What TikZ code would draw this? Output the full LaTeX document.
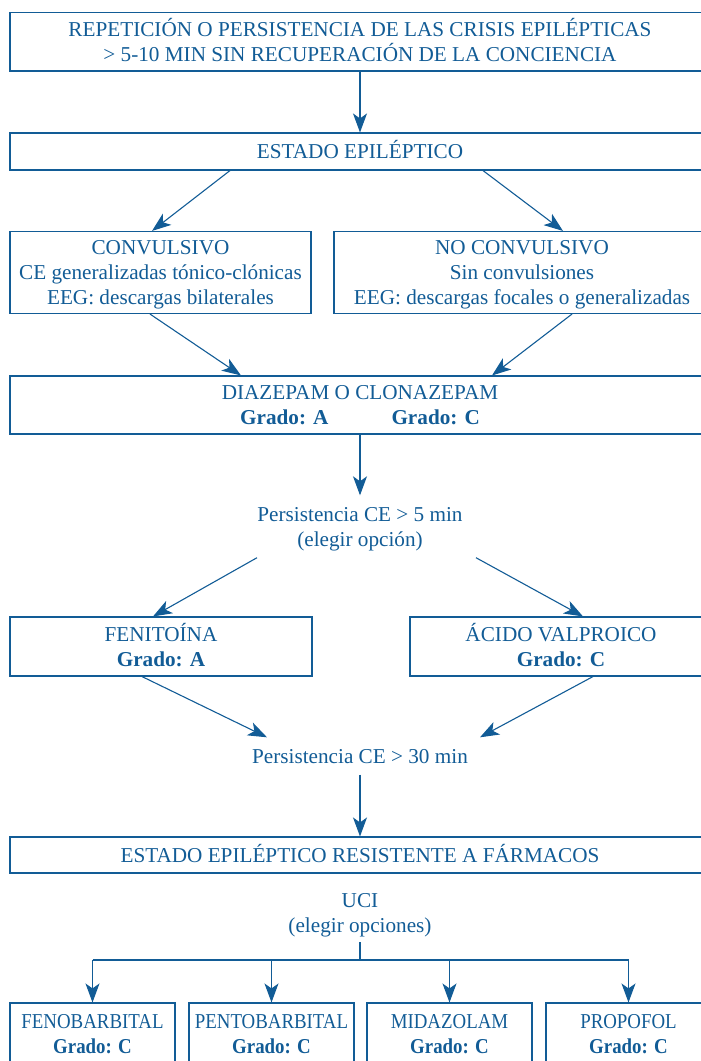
\documentclass[tikz,border=0pt]{standalone}
\usepackage{fontspec}
\setmainfont{Liberation Serif}
\newfontfamily\estrecha[FakeStretch=0.89]{Liberation Serif}
\usetikzlibrary{positioning,arrows.meta}
\definecolor{azul}{RGB}{18,92,150}

\tikzset{
  caja/.style={draw=azul, line width=1.1pt, text=azul, align=center, inner sep=0pt, text depth=0pt},
  nota/.style={text=azul, align=center, inner xsep=0pt, inner ysep=11.5pt, text depth=0pt},
  flecha/.style={draw=azul, line width=1.1pt, -{Stealth[length=19pt,width=14pt,inset=5pt]}},
  linea/.style={draw=azul, line width=1.1pt},
}

\begin{document}
\begin{tikzpicture}[x=1pt,y=-1pt,font=\fontsize{21.2}{25}\selectfont]
\useasboundingbox (0,0) rectangle (701,1061);
\clip (0,0) rectangle (701,1061);

% cajas principales
\node[caja, minimum width=700pt, minimum height=58.3pt, text height=39pt] (inicio) at (360,41.85)
  {REPETICIÓN O PERSISTENCIA DE LAS CRISIS EPILÉPTICAS\\> 5-10 MIN SIN RECUPERACIÓN DE LA CONCIENCIA};
\node[caja, minimum width=700pt, minimum height=37pt, text height=14pt] (estado) at (360,151.5) {ESTADO EPILÉPTICO};
\node[caja, minimum width=301pt, minimum height=82pt, text height=64pt] (conv) at (160.5,272.5)
  {CONVULSIVO\\CE generalizadas tónico-clónicas\\EEG: descargas bilaterales};
\node[caja, minimum width=376pt, minimum height=82pt, text height=64pt] (noconv) at (522,272.5)
  {NO CONVULSIVO\\Sin convulsiones\\EEG: descargas focales o generalizadas};
\node[caja, minimum width=700pt, minimum height=58pt, text height=39pt] (diaz) at (360,405)
  {DIAZEPAM O CLONAZEPAM\\\textbf{Grado: A}\hspace{63pt}\textbf{Grado: C}};

\node[nota, text height=39pt] (p5) at (360,526.5) {Persistencia CE > 5 min\\(elegir opción)};

\node[caja, minimum width=302pt, minimum height=59pt, text height=39pt] (fen) at (161,646.5)
  {FENITOÍNA\\\textbf{Grado: A}};
\node[caja, minimum width=302pt, minimum height=59pt, text height=39pt] (acido) at (561,646.5)
  {ÁCIDO VALPROICO\\\textbf{Grado: C}};

\node[nota, text height=14pt] (p30) at (360,756) {Persistencia CE > 30 min};

\node[caja, minimum width=700pt, minimum height=36pt, text height=14pt] (res) at (360,855)
  {ESTADO EPILÉPTICO RESISTENTE A FÁRMACOS};
\node[nota, inner ysep=10pt, text height=39pt] (uci) at (360,912.5) {UCI\\(elegir opciones)};

% opciones en UCI
\foreach \nombre/\cx/\farmaco in {feno/92.5/FENOBARBITAL, pento/271.5/PENTOBARBITAL, mida/449.5/MIDAZOLAM, propo/628.5/PROPOFOL}
  \node[caja, minimum width=165pt, minimum height=61pt, text height=39pt, font=\fontsize{21.2}{25}\estrecha] (\nombre) at (\cx,1033.5)
    {\farmaco\\\textbf{Grado: C}};

% flechas
\draw[flecha] (inicio) -- (estado);
\draw[flecha] ([xshift=-130pt]estado.south) -- ([xshift=-8.5pt]conv.north);
\draw[flecha] ([xshift=123pt]estado.south) -- ([xshift=41pt]noconv.north);
\draw[flecha] ([xshift=-10.5pt]conv.south) -- ([xshift=-119pt]diaz.north);
\draw[flecha] ([xshift=50pt]noconv.south) -- ([xshift=132pt]diaz.north);
\draw[flecha] (diaz) -- (p5);
\draw[flecha] ([xshift=-103pt]p5.south) -- ([xshift=-8pt]fen.north);
\draw[flecha] ([xshift=116pt]p5.south) -- ([xshift=22pt]acido.north);
\draw[flecha] ([xshift=-19pt]fen.south) -- ([xshift=-93pt]p30.north);
\draw[flecha] ([xshift=32pt]acido.south) -- ([xshift=120pt]p30.north);
\draw[flecha] (p30) -- (res);

\coordinate (barra) at (360,960);
\draw[linea] (uci.south) -- (barra) (feno.north |- barra) -- (propo.north |- barra);
\foreach \nombre in {feno,pento,mida,propo}
  \draw[flecha] (\nombre.north |- barra) -- (\nombre.north);
\end{tikzpicture}
\end{document}
